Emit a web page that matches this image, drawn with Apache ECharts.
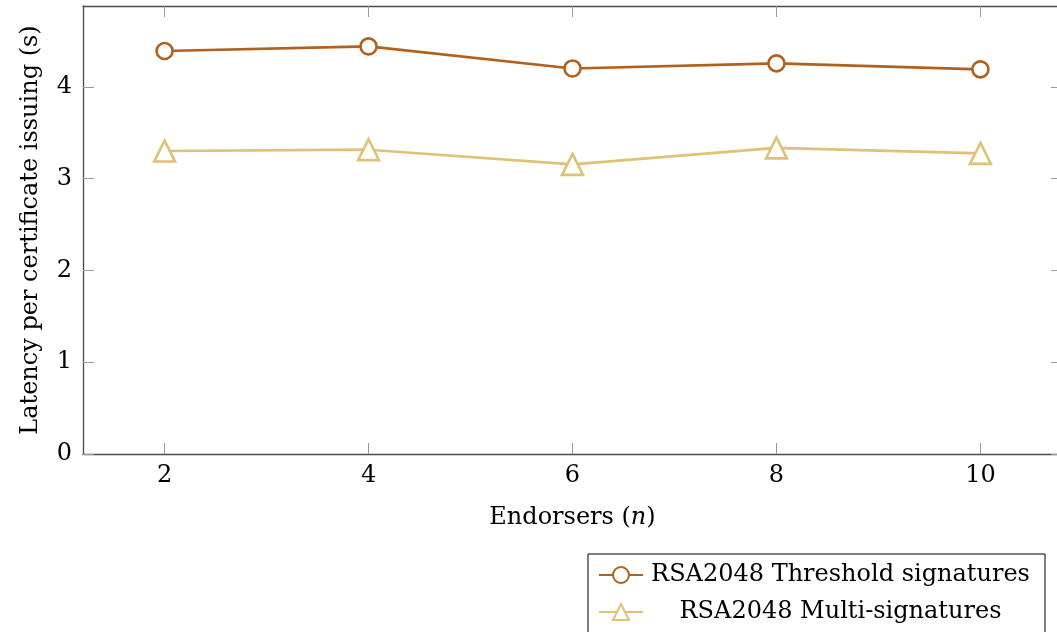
<!DOCTYPE html>
<html>
<head>
<meta charset="utf-8">
<script src="https://cdn.jsdelivr.net/npm/echarts@6/dist/echarts.min.js"></script>
<style>html,body{margin:0;padding:0;background:#fff;overflow:hidden}#c{width:1068px;height:660px}</style>
</head>
<body>
<div id="c"></div>
<script>
const endorsers = [2, 4, 6, 8, 10];
const thresholdLatency = [4.39, 4.44, 4.20, 4.255, 4.19];
const multiLatency = [3.30, 3.315, 3.155, 3.335, 3.275];
const xTicks = [2, 4, 6, 8, 10];
const yTicks = [0, 1, 2, 3, 4];
const seriesNames = ['RSA2048 Threshold signatures', 'RSA2048 Multi-signatures'];

const FONT = 'DejaVu Serif';
const FS = 24;
const frame = '#4a4a4a';
const tickCol = '#9a9a9a';
const c1 = '#B1611D';
const c2 = '#DFC178';

const chart = echarts.init(document.getElementById('c'), null, {renderer: 'canvas'});
const pairs = (ys) => endorsers.map((x, i) => [x, ys[i]]);

const xBase = {
  type: 'value', min: 1.2, max: 10.8,
  splitLine: {show: false},
  axisLine: {show: true, onZero: false, lineStyle: {color: frame, width: 1.3}},
  axisTick: {show: true, inside: true, length: 11, lineStyle: {color: tickCol, width: 1}, customValues: xTicks},
};
const yBase = {
  type: 'value', min: 0, max: 4.88,
  splitLine: {show: false},
  axisLine: {show: true, onZero: false, lineStyle: {color: frame, width: 1.3}},
  axisTick: {show: true, inside: true, length: 11, lineStyle: {color: tickCol, width: 1}, customValues: yTicks},
};

chart.setOption({
  animation: false,
  grid: {left: 83, top: 6, right: 6, bottom: 206, containLabel: false},
  xAxis: [
    Object.assign({}, xBase, {
      position: 'bottom',
      name: 'Endorsers ({i|n})',
      nameLocation: 'middle', nameGap: 52,
      nameTextStyle: {fontFamily: FONT, fontSize: FS, color: '#000',
        rich: {i: {fontFamily: FONT, fontStyle: 'italic', fontSize: FS, color: '#000'}}},
      axisLabel: {show: true, customValues: xTicks, margin: 10, fontFamily: FONT, fontSize: FS, color: '#000'}
    }),
    Object.assign({}, xBase, {position: 'top', axisLabel: {show: false}})
  ],
  yAxis: [
    Object.assign({}, yBase, {
      position: 'left',
      name: 'Latency per certificate issuing (s)',
      nameLocation: 'middle', nameGap: 40,
      nameTextStyle: {fontFamily: FONT, fontSize: FS, color: '#000'},
      axisLabel: {show: true, customValues: yTicks, margin: 11, fontFamily: FONT, fontSize: FS, color: '#000'}
    }),
    Object.assign({}, yBase, {position: 'right', axisLabel: {show: false}})
  ],
  legend: {
    orient: 'vertical',
    left: 588, top: 554,
    padding: [9, 12, 14, 10],
    itemGap: 13,
    itemWidth: 44, itemHeight: 20,
    borderColor: '#000', borderWidth: 1,
    backgroundColor: '#fff',
    data: seriesNames,
    formatter: (n) => '{t|' + n + '}',
    textStyle: {fontFamily: FONT, fontSize: FS, color: '#000',
      rich: {t: {width: 385, lineHeight: 28, align: 'center', fontFamily: FONT, fontSize: FS, color: '#000'}}}
  },
  series: [
    {
      name: seriesNames[0], type: 'line', xAxisIndex: 0, yAxisIndex: 0,
      data: pairs(thresholdLatency),
      symbol: 'circle', symbolSize: 16, showAllSymbol: true,
      lineStyle: {color: c1, width: 2.6},
      itemStyle: {color: '#fff', borderColor: c1, borderWidth: 2.6}
    },
    {
      name: seriesNames[1], type: 'line', xAxisIndex: 0, yAxisIndex: 0,
      data: pairs(multiLatency),
      symbol: 'triangle', symbolSize: 21, showAllSymbol: true,
      lineStyle: {color: c2, width: 2.6},
      itemStyle: {color: '#fff', borderColor: c2, borderWidth: 2.6}
    }
  ]
});
</script>
</body>
</html>
